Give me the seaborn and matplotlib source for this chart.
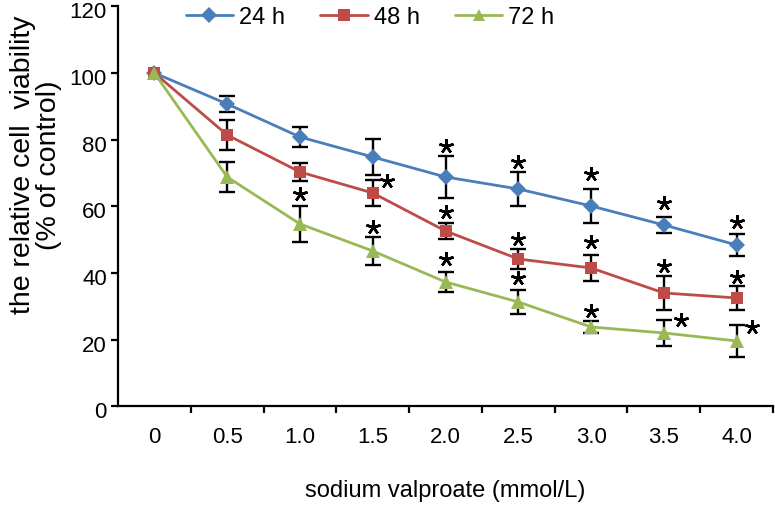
"""Cell viability vs sodium valproate dose, 24/48/72 h."""

import matplotlib
matplotlib.use("Agg")
import matplotlib.pyplot as plt
import matplotlib.transforms as mtransforms
from matplotlib.ticker import FixedLocator, NullFormatter
import numpy as np
import pandas as pd
import seaborn as sns

doses = ["0", "0.5", "1.0", "1.5", "2.0", "2.5", "3.0", "3.5", "4.0"]
times = ["24 h", "48 h", "72 h"]

via_24 = [100, 90.7, 80.8, 74.8, 68.8, 65.2, 60.1, 54.4, 48.4]
via_48 = [100, 81.4, 70.3, 64.0, 52.6, 44.2, 41.5, 34.0, 32.5]
via_72 = [100, 68.8, 54.7, 46.6, 37.3, 31.3, 23.8, 22.0, 19.6]

sd_24 = [0, 2.4, 3.0, 5.4, 6.3, 5.0, 5.2, 2.3, 3.3]
sd_48 = [0, 4.4, 2.7, 3.8, 2.5, 3.0, 4.0, 5.2, 3.6]
sd_72 = [0, 4.6, 5.3, 4.1, 2.9, 3.6, 1.7, 3.8, 4.7]

# significance marks: (dose index, y value)
stars_24 = [(4, 78.1), (5, 73.3), (6, 69.7), (7, 61.0), (8, 55.3)]
stars_48 = [(3.19, 67.6), (4, 58.2), (5, 50.2), (6, 49.3), (7, 42.0), (8, 38.8)]
stars_72 = [(2, 63.7), (3, 53.8), (4, 44.2), (5, 38.5), (6, 28.6),
            (7.23, 25.9), (8.21, 23.8)]

colors = ["#4a7ebb", "#be4b48", "#98b954"]
markers = ["D", "s", "^"]

sns.set_theme(style="white")
plt.rcParams["font.family"] = ["Liberation Sans", "DejaVu Sans"]
plt.rcParams.update({
    "text.color": "black",
    "axes.labelcolor": "black",
    "xtick.color": "black",
    "ytick.color": "black",
})

df = pd.DataFrame({
    "pos": np.tile(np.arange(len(doses)), 3),
    "viability": via_24 + via_48 + via_72,
    "sd": sd_24 + sd_48 + sd_72,
    "time": np.repeat(times, len(doses)),
})

fig = plt.figure(figsize=(7.75, 5.1), dpi=100)
ax = fig.add_axes([118 / 775, 1 - 407.3 / 510, 655 / 775, 400 / 510])

sns.lineplot(data=df, x="pos", y="viability", hue="time", style="time",
             markers=markers, dashes=False, palette=colors, ax=ax,
             linewidth=2.0, markersize=8, markeredgewidth=0, zorder=3)
for i, ms in enumerate([8, 8.5, 9.5]):
    ax.lines[i].set_markersize(ms)

for t in times:
    sub = df[(df["time"] == t) & (df["sd"] > 0)]
    ax.errorbar(sub["pos"], sub["viability"], yerr=sub["sd"], fmt="none",
                ecolor="black", elinewidth=1.7, capsize=5.5, capthick=1.7,
                zorder=2)

for stars in (stars_24, stars_48, stars_72):
    xs, ys = zip(*stars)
    ax.plot(xs, ys, ls="none", marker=(5, 2, 0), ms=10.5, mew=1.8,
            color="black", zorder=4)

ax.set_xlim(-0.5, len(doses) - 0.5)
ax.set_ylim(0, 120)
ax.set_yticks(range(0, 121, 20))
ax.xaxis.set_major_locator(FixedLocator(np.arange(0.5, len(doses), 1.0)))
ax.xaxis.set_major_formatter(NullFormatter())
ax.set_xticks(np.arange(len(doses)), minor=True)
ax.set_xticklabels(doses, minor=True)
ax.tick_params(axis="x", which="major", direction="out", length=5, width=1.6,
               bottom=True)
ax.tick_params(axis="x", which="minor", length=0, pad=14, labelsize=16)
ax.tick_params(axis="y", direction="out", length=5, width=1.6,
               left=True, labelsize=16, pad=3)
shift = mtransforms.ScaledTranslation(0, -3 / 100, fig.dpi_scale_trans)
for lab in ax.get_yticklabels():
    lab.set_transform(lab.get_transform() + shift)

for side in ("top", "right"):
    ax.spines[side].set_visible(False)
for side in ("left", "bottom"):
    ax.spines[side].set_color("black")
    ax.spines[side].set_linewidth(1.6)

ax.set_xlabel("sodium valproate (mmol/L)", fontsize=17, labelpad=23)
ax.set_ylabel("the relative cell  viability\n(% of control)", fontsize=20.5,
              linespacing=1.0)
ax.yaxis.set_label_coords(-0.085, 0.606)

handles, labels = ax.get_legend_handles_labels()
ax.legend(handles, labels, ncol=3, frameon=False, loc="center",
          bbox_to_anchor=(370 / 775, 1 - 18 / 510),
          bbox_transform=fig.transFigure, fontsize=17,
          handlelength=2.0, columnspacing=1.5, handletextpad=0.25,
          borderpad=0, borderaxespad=0)

fig.savefig("out.png", dpi=100)
